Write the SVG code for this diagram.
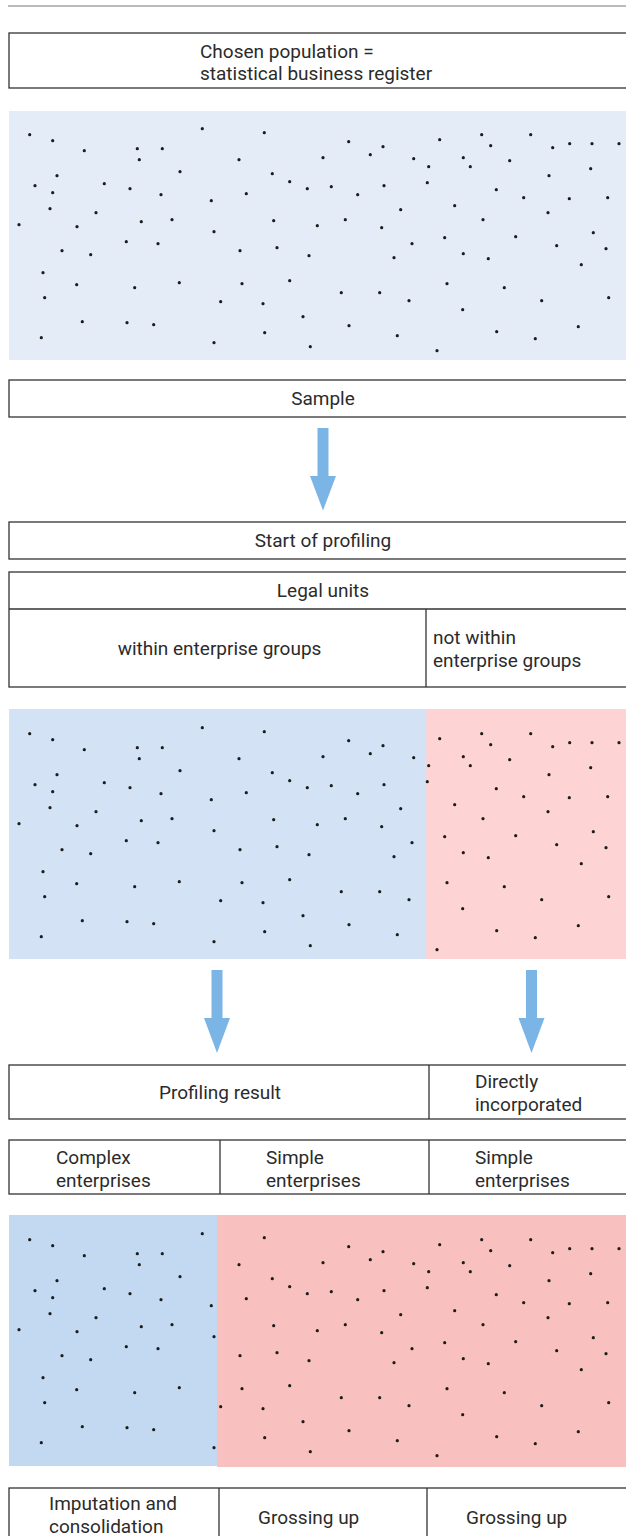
<svg xmlns="http://www.w3.org/2000/svg" xmlns:xlink="http://www.w3.org/1999/xlink" width="626" height="1536" viewBox="0 0 626 1536">
<style>
.box{fill:#ffffff;stroke:#333333;stroke-width:1.3}
.div{stroke:#333333;stroke-width:1.3}
.t{font-family:Roboto,"Liberation Sans",sans-serif;font-size:19px;fill:#2b2b2b}
.c{text-anchor:middle}
.arrow{fill:#7bb5e6}
.dot{fill:#1c1c1c}
</style>
<defs>
<g id="dots" class="dot">
<circle cx="29.7" cy="134.7" r="1.6"/><circle cx="52.7" cy="140.7" r="1.6"/><circle cx="84.3" cy="150.7" r="1.6"/><circle cx="137.3" cy="148.7" r="1.6"/><circle cx="162.3" cy="148.7" r="1.6"/><circle cx="139.3" cy="159.7" r="1.6"/><circle cx="202.3" cy="128.7" r="1.6"/><circle cx="264.3" cy="132.7" r="1.6"/><circle cx="239" cy="159.7" r="1.6"/><circle cx="180" cy="171.7" r="1.6"/><circle cx="57" cy="175.7" r="1.6"/><circle cx="35" cy="185.7" r="1.6"/><circle cx="52.7" cy="192.7" r="1.6"/><circle cx="104.3" cy="183.7" r="1.6"/><circle cx="130" cy="188.7" r="1.6"/><circle cx="161" cy="194.7" r="1.6"/><circle cx="211.3" cy="200.7" r="1.6"/><circle cx="246.3" cy="193.7" r="1.6"/><circle cx="272.3" cy="173.7" r="1.6"/><circle cx="289.7" cy="181.7" r="1.6"/><circle cx="307.3" cy="188.7" r="1.6"/><circle cx="50" cy="208.7" r="1.6"/><circle cx="96" cy="212.7" r="1.6"/><circle cx="19" cy="224.7" r="1.6"/><circle cx="77" cy="226.7" r="1.6"/><circle cx="141.3" cy="221.7" r="1.6"/><circle cx="172" cy="219.7" r="1.6"/><circle cx="214" cy="231.7" r="1.6"/><circle cx="273.7" cy="220.7" r="1.6"/><circle cx="126.3" cy="241.7" r="1.6"/><circle cx="158" cy="243.7" r="1.6"/><circle cx="62" cy="250.7" r="1.6"/><circle cx="90.7" cy="254.7" r="1.6"/><circle cx="240" cy="250.7" r="1.6"/><circle cx="277" cy="247.7" r="1.6"/><circle cx="309" cy="255.7" r="1.6"/><circle cx="43" cy="272.7" r="1.6"/><circle cx="76.7" cy="284.7" r="1.6"/><circle cx="134.7" cy="287.7" r="1.6"/><circle cx="179.3" cy="282.7" r="1.6"/><circle cx="242" cy="283.7" r="1.6"/><circle cx="289.7" cy="280.7" r="1.6"/><circle cx="44.7" cy="297.7" r="1.6"/><circle cx="220.7" cy="301.7" r="1.6"/><circle cx="263" cy="303.7" r="1.6"/><circle cx="303" cy="316.7" r="1.6"/><circle cx="82.3" cy="321.7" r="1.6"/><circle cx="127" cy="322.7" r="1.6"/><circle cx="153.7" cy="324.7" r="1.6"/><circle cx="41.3" cy="337.7" r="1.6"/><circle cx="214" cy="342.7" r="1.6"/><circle cx="264.7" cy="332.7" r="1.6"/><circle cx="310.3" cy="346.7" r="1.6"/>
<circle cx="348.7" cy="141.7" r="1.6"/><circle cx="383" cy="146.7" r="1.6"/><circle cx="323" cy="157.7" r="1.6"/><circle cx="370.3" cy="154.7" r="1.6"/><circle cx="439.7" cy="139.7" r="1.6"/><circle cx="481.7" cy="134.7" r="1.6"/><circle cx="490.7" cy="145.7" r="1.6"/><circle cx="530.7" cy="134.7" r="1.6"/><circle cx="552.7" cy="147.7" r="1.6"/><circle cx="569.7" cy="143.7" r="1.6"/><circle cx="592" cy="143.7" r="1.6"/><circle cx="619" cy="143.7" r="1.6"/><circle cx="413.7" cy="158.7" r="1.6"/><circle cx="428.7" cy="166.7" r="1.6"/><circle cx="463.3" cy="157.7" r="1.6"/><circle cx="470.3" cy="166.7" r="1.6"/><circle cx="509.7" cy="160.7" r="1.6"/><circle cx="549" cy="175.7" r="1.6"/><circle cx="590.7" cy="168.7" r="1.6"/><circle cx="331.3" cy="186.7" r="1.6"/><circle cx="357.7" cy="194.7" r="1.6"/><circle cx="384" cy="185.7" r="1.6"/><circle cx="427.3" cy="182.7" r="1.6"/><circle cx="496.3" cy="189.7" r="1.6"/><circle cx="523.7" cy="197.7" r="1.6"/><circle cx="569.3" cy="198.7" r="1.6"/><circle cx="607.7" cy="197.7" r="1.6"/><circle cx="400.7" cy="209.7" r="1.6"/><circle cx="454.7" cy="205.7" r="1.6"/><circle cx="317.3" cy="225.7" r="1.6"/><circle cx="345.3" cy="219.7" r="1.6"/><circle cx="381.7" cy="227.7" r="1.6"/><circle cx="483" cy="219.7" r="1.6"/><circle cx="548" cy="212.7" r="1.6"/><circle cx="412" cy="243.7" r="1.6"/><circle cx="444.7" cy="237.7" r="1.6"/><circle cx="515.7" cy="236.7" r="1.6"/><circle cx="556.7" cy="245.7" r="1.6"/><circle cx="593.3" cy="232.7" r="1.6"/><circle cx="606" cy="248.7" r="1.6"/><circle cx="394" cy="257.7" r="1.6"/><circle cx="463.3" cy="253.7" r="1.6"/><circle cx="488.3" cy="258.7" r="1.6"/><circle cx="581.3" cy="264.7" r="1.6"/><circle cx="447" cy="283.7" r="1.6"/><circle cx="504.3" cy="287.7" r="1.6"/><circle cx="341.3" cy="292.7" r="1.6"/><circle cx="379.7" cy="292.7" r="1.6"/><circle cx="409" cy="300.7" r="1.6"/><circle cx="541.7" cy="300.7" r="1.6"/><circle cx="608.7" cy="297.7" r="1.6"/><circle cx="462.7" cy="309.7" r="1.6"/><circle cx="349" cy="325.7" r="1.6"/><circle cx="397.3" cy="335.7" r="1.6"/><circle cx="496.7" cy="331.7" r="1.6"/><circle cx="535.3" cy="338.7" r="1.6"/><circle cx="578.3" cy="326.7" r="1.6"/><circle cx="437" cy="350.7" r="1.6"/>
</g>
</defs>

<line x1="8" y1="6" x2="626" y2="6" stroke="#777777" stroke-width="1"/>

<g id="population">
<rect class="box" x="9" y="33" width="640" height="55"/>
<text class="t" x="200" y="58">Chosen population =</text>
<text class="t" x="200" y="80">statistical business register</text>
</g>

<g id="panel-population">
<rect x="9" y="111" width="620" height="249" fill="#e4ecf7"/>
<use href="#dots" xlink:href="#dots"/>
</g>

<g id="sample">
<rect class="box" x="9" y="380" width="640" height="37"/>
<text class="t c" x="323" y="405">Sample</text>
</g>

<g id="start-profiling">
<rect class="box" x="9" y="522" width="640" height="37"/>
<text class="t c" x="323" y="547">Start of profiling</text>
</g>

<g id="legal-units">
<rect class="box" x="9" y="572" width="640" height="115"/>
<line class="div" x1="9" y1="609" x2="640" y2="609"/>
<line class="div" x1="426" y1="609" x2="426" y2="687"/>
<text class="t c" x="323" y="597">Legal units</text>
<text class="t c" x="219.5" y="655">within enterprise groups</text>
<text class="t" x="433" y="644">not within</text>
<text class="t" x="433" y="667">enterprise groups</text>
</g>

<g id="panel-legal-units">
<rect x="9" y="709" width="418" height="250" fill="#d3e2f4"/>
<rect x="426.3" y="709" width="203" height="250" fill="#fdd4d3"/>
<use href="#dots" xlink:href="#dots" transform="translate(0,599)"/>
</g>

<g id="profiling-result">
<rect class="box" x="9" y="1065" width="640" height="54"/>
<line class="div" x1="429" y1="1065" x2="429" y2="1119"/>
<text class="t c" x="220" y="1099">Profiling result</text>
<text class="t" x="475" y="1088">Directly</text>
<text class="t" x="475" y="1111">incorporated</text>
</g>

<g id="enterprises">
<rect class="box" x="9" y="1140" width="640" height="54"/>
<line class="div" x1="220" y1="1140" x2="220" y2="1194"/>
<line class="div" x1="429" y1="1140" x2="429" y2="1194"/>
<text class="t" x="56" y="1164">Complex</text>
<text class="t" x="56" y="1187">enterprises</text>
<text class="t" x="266" y="1164">Simple</text>
<text class="t" x="266" y="1187">enterprises</text>
<text class="t" x="475" y="1164">Simple</text>
<text class="t" x="475" y="1187">enterprises</text>
</g>

<g id="panel-enterprises">
<rect x="9" y="1215" width="209" height="251" fill="#c3d9f1"/>
<rect x="217" y="1215" width="412" height="252" fill="#f8c1bf"/>
<use href="#dots" xlink:href="#dots" transform="translate(0,1105)"/>
</g>

<g id="methods">
<rect class="box" x="9" y="1488" width="640" height="60"/>
<line class="div" x1="219" y1="1488" x2="219" y2="1536"/>
<line class="div" x1="427" y1="1488" x2="427" y2="1536"/>
<text class="t" x="49" y="1510">Imputation and</text>
<text class="t" x="49" y="1533">consolidation</text>
<text class="t" x="258" y="1524">Grossing up</text>
<text class="t" x="466" y="1524">Grossing up</text>
</g>

<g id="connectors">
<path class="arrow" d="M317.5,428 H328.5 V476 H336 L323,510.5 L310,476 H317.5 Z"/>
<path class="arrow" d="M211.5,970 H222.5 V1018 H230 L217,1053 L204,1018 H211.5 Z"/>
<path class="arrow" d="M526,970 H537 V1018 H544.5 L531.5,1053 L518.5,1018 H526 Z"/>
</g>
</svg>
